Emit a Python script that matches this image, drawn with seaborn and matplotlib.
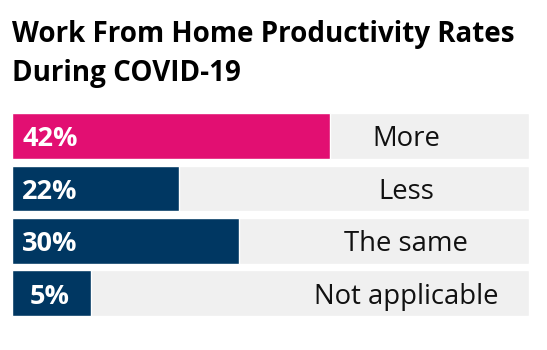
import matplotlib
matplotlib.use("Agg")
import matplotlib.pyplot as plt
import seaborn as sns
import pandas as pd

# ===================== data =====================
answers = ["More", "Less", "The same", "Not applicable"]
shares = [42, 22, 30, 5]
title_lines = ["Work From Home Productivity Rates", "During COVID-19"]

# ===================== style =====================
PINK = "#E20F72"
NAVY = "#003762"
TRACK = "#F0F0F0"
SCALE_MAX = 68.3     # right end of the grey track, in %
MIN_BAR = 10.4       # short bars get a minimum width so the label fits

sns.set_theme(style="white")
plt.rcParams["font.family"] = ["Open Sans", "DejaVu Sans"]

df = pd.DataFrame({"answer": answers, "share": shares})
df["drawn"] = df["share"].clip(lower=MIN_BAR)
df["track"] = SCALE_MAX

fig = plt.figure(figsize=(5.47, 3.5), dpi=100)
ax = fig.add_axes([12 / 547, 1 - 319.4 / 350, 517 / 547, 209.5 / 350])

# grey background track
sns.barplot(data=df, x="track", y="answer", orient="h", color=TRACK,
            width=0.87, saturation=1, ax=ax)
# value bars, first one highlighted
palette = [PINK] + [NAVY] * (len(answers) - 1)
sns.barplot(data=df, x="drawn", y="answer", orient="h", hue="answer",
            palette=palette, width=0.87, saturation=1, legend=False, ax=ax)

ax.set_xlim(0, SCALE_MAX)
ax.set_axis_off()

for i, row in df.iterrows():
    ax.text(0.0735, i + 0.198, f"{row['share']}%", transform=ax.get_yaxis_transform(),
            ha="center", va="baseline", color="white", fontsize=19.5,
            fontweight="bold")
    ax.text(0.7627, i + 0.198, row["answer"], transform=ax.get_yaxis_transform(),
            ha="center", va="baseline", color="#111111", fontsize=19.8)

fig.text(12 / 547, 1 - 41.7 / 350, title_lines[0], ha="left", va="baseline",
         fontsize=20, fontweight="bold", color="#000000")
fig.text(12 / 547, 1 - 80.5 / 350, title_lines[1], ha="left", va="baseline",
         fontsize=20, fontweight="bold", color="#000000")

fig.savefig("out.png", dpi=100)
